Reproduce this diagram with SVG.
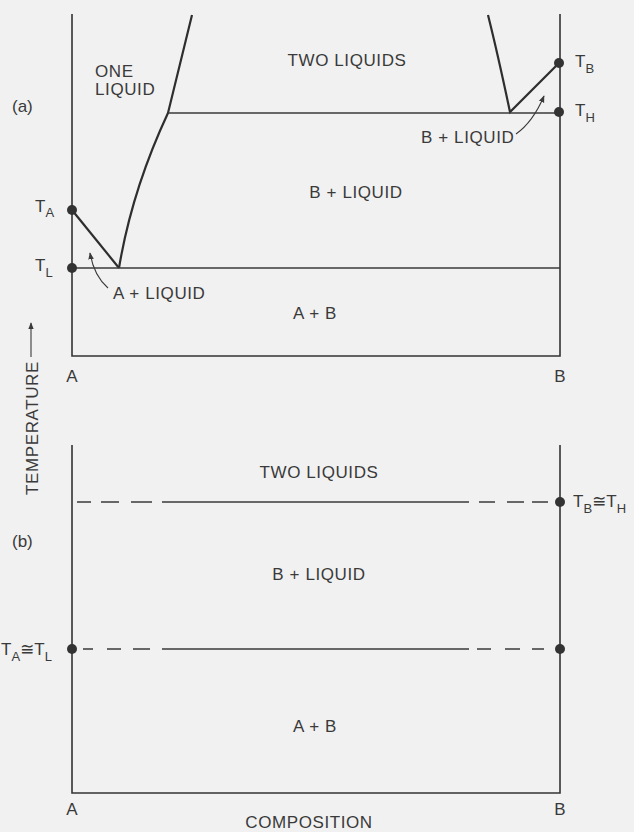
<svg xmlns="http://www.w3.org/2000/svg" width="634" height="832" viewBox="0 0 634 832">
<defs>
<style>
text{font-family:"Liberation Sans","DejaVu Sans",sans-serif;font-size:17px;fill:#3a3a3a}
.lbl{font-size:17px;letter-spacing:0.6px}
.sub{font-size:13px}
.ax{stroke:#333;stroke-width:1.6;fill:none}
.cv{stroke:#2e2e2e;stroke-width:2.2;fill:none}
.hl{stroke:#3a3a3a;stroke-width:1.6;fill:none}
.ar{stroke:#3a3a3a;stroke-width:1.1;fill:none}
.dot{fill:#333}
</style>
<marker id="ah" viewBox="0 0 10 10" refX="9" refY="5" markerWidth="7" markerHeight="7" orient="auto" markerUnits="userSpaceOnUse">
<path d="M0,1 L10,5 L0,9 Z" fill="#3a3a3a"/>
</marker>
</defs>
<rect width="634" height="832" fill="#f1f1f1"/>

<g id="panel-a-frame">
<path class="ax" d="M72,14 V356 H560 V14"/>
</g>

<g id="connectors">
<path class="cv" d="M72,210 L119,268"/>
<path class="cv" d="M119,268 Q132,190 168,113 L192,15"/>
<path class="cv" d="M488,15 Q498,55 510,112 L559,63"/>
<path class="hl" d="M72,268 H560"/>
<path class="hl" d="M168,113 H560"/>
<path class="ar" d="M108,288 Q94,276 90,253" marker-end="url(#ah)"/>
<path class="ar" d="M516,134 Q533,122 544,96" marker-end="url(#ah)"/>
<path class="ar" d="M31,357 V323" marker-end="url(#ah)"/>
<path class="hl" d="M77,502H91M101,502H119M131,502H152M162,502H469M479,502H495M507,502H524M532,502H548"/>
<path class="hl" d="M83,649H93M107,649H121M133,649H150M162,649H469M477,649H491M505,649H520M532,649H544"/>
</g>

<g id="points-a">
<circle class="dot" cx="72" cy="210" r="5"/>
<circle class="dot" cx="72" cy="268" r="5"/>
<circle class="dot" cx="559" cy="63" r="5"/>
<circle class="dot" cx="559" cy="112" r="5"/>
</g>

<g id="labels-a">
<text x="12" y="112">(a)</text>
<text class="lbl" x="95" y="77">ONE</text>
<text class="lbl" x="95" y="95">LIQUID</text>
<text class="lbl" x="347" y="66" text-anchor="middle" letter-spacing="1">TWO LIQUIDS</text>
<text class="lbl" x="356" y="198" text-anchor="middle">B + LIQUID</text>
<text class="lbl" x="315" y="319" text-anchor="middle">A + B</text>
<text class="lbl" x="113" y="299">A + LIQUID</text>
<text class="lbl" x="421" y="143">B + LIQUID</text>
<text x="35" y="212">T<tspan class="sub" dy="5">A</tspan></text>
<text x="35" y="271">T<tspan class="sub" dy="6">L</tspan></text>
<text x="575" y="67">T<tspan class="sub" dy="6">B</tspan></text>
<text x="575" y="116">T<tspan class="sub" dy="6">H</tspan></text>
<text x="72" y="382" text-anchor="middle">A</text>
<text x="560" y="382" text-anchor="middle">B</text>
</g>

<g id="axis-label">
<text class="lbl" transform="translate(38,428) rotate(-90)" text-anchor="middle">TEMPERATURE</text>
</g>

<g id="panel-b-frame">
<path class="ax" d="M72,445 V793 H560 V445"/>
</g>

<g id="points-b">
<circle class="dot" cx="560" cy="502" r="5"/>
<circle class="dot" cx="72" cy="649" r="5"/>
<circle class="dot" cx="560" cy="649" r="5"/>
</g>

<g id="labels-b">
<text x="12" y="547">(b)</text>
<text class="lbl" x="319" y="478" text-anchor="middle" letter-spacing="1">TWO LIQUIDS</text>
<text class="lbl" x="319" y="580" text-anchor="middle">B + LIQUID</text>
<text class="lbl" x="315" y="732" text-anchor="middle">A + B</text>
<text x="573" y="507">T<tspan class="sub" dy="6">B</tspan><tspan dy="-6">≅T</tspan><tspan class="sub" dy="6">H</tspan></text>
<text x="1" y="655">T<tspan class="sub" dy="6">A</tspan><tspan dy="-6">≅T</tspan><tspan class="sub" dy="6">L</tspan></text>
<text x="72" y="815" text-anchor="middle">A</text>
<text x="560" y="815" text-anchor="middle">B</text>
<text class="lbl" x="309" y="828" text-anchor="middle">COMPOSITION</text>
</g>
</svg>
